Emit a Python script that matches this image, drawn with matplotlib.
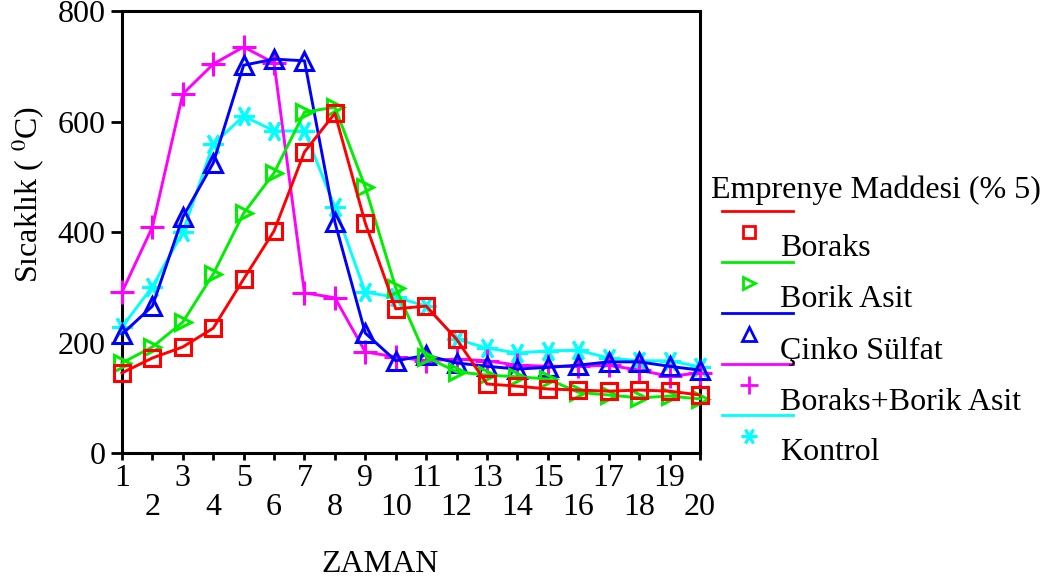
import numpy as np
import matplotlib.pyplot as plt
from matplotlib.lines import Line2D

plt.rcParams['font.family'] = ['Liberation Serif', 'DejaVu Serif']
plt.rcParams['mathtext.fontset'] = 'stix'

zaman = np.arange(1, 21)

boraks = [145, 172, 192, 226, 315, 402, 545, 615, 416, 261,
          266, 206, 125, 121, 116, 114, 112, 114, 112, 105]
borik_asit = [163, 192, 237, 324, 434, 507, 617, 626, 481, 299,
              174, 147, 141, 138, 134, 110, 105, 100, 103, 98]
cinko_sulfat = [215, 266, 427, 525, 702, 713, 710, 418, 217, 167,
                177, 163, 157, 152, 155, 159, 165, 165, 157, 150]
boraks_borik = [291, 409, 650, 704, 735, 706, 290, 281, 183, 174,
                167, 170, 167, 159, 157, 157, 159, 150, 139, 145]
kontrol = [228, 301, 400, 559, 610, 583, 583, 445, 291, 282,
           266, 206, 190, 181, 185, 186, 172, 167, 167, 156]

series = [
    ("Boraks", boraks, '#ff0000', 's', 11.5),
    ("Borik Asit", borik_asit, '#00ee00', '>', 11.5),
    ("Çinko Sülfat", cinko_sulfat, '#0000ff', '^', 12.5),
    ("Boraks+Borik Asit", boraks_borik, '#ff00ff', '+', 17),
    ("Kontrol", kontrol, '#00ffff', (6, 2, 90), 15),
]

fig = plt.figure(figsize=(10.47, 5.82), dpi=100)
ax = fig.add_axes([0.1165, 0.2216, 0.552, 0.7594])

for i, (name, vals, col, mk, ms) in enumerate(series):
    ax.plot(zaman, vals, color=col, lw=2.1, marker=mk, ms=ms,
            mfc='none', mec=col, mew=2.2, zorder=10 - i, clip_on=False)

ax.set_xlim(1, 20)
ax.set_ylim(0, 800)
ax.set_yticks([0, 200, 400, 600, 800])
ax.set_xticks(zaman)
# odd times on the first row, even times one row lower
ax.set_xticklabels([str(v) if v % 2 else '\n' + str(v) for v in zaman])
ax.tick_params(axis='both', labelsize=23, width=2, colors='black')
ax.tick_params(axis='y', length=8, pad=4)
ax.tick_params(axis='x', length=5, pad=3)
for s in ax.spines.values():
    s.set_linewidth(2.2)
for lab in ax.get_xticklabels():
    lab.set_linespacing(1.0)

ax.set_ylabel('Sıcaklık ( $^{0}$C)', fontsize=23)
ax.yaxis.set_label_coords(-0.13, 0.586)
fig.text(0.363, 0.03, 'ZAMAN', fontsize=23, ha='center', va='center')

# legend drawn by hand: line, marker, then label
fig.text(0.679, 1 - 190 / 582, 'Emprenye Maddesi (% 5)', fontsize=23,
         ha='left', va='center')
for i, (name, vals, col, mk, ms) in enumerate(series):
    y_line = 1 - (211 + 51 * i) / 582
    y_mk = 1 - (232 + 51 * i) / 582
    y_lab = 1 - (249 + 51 * i) / 582
    fig.add_artist(Line2D([722 / 1047, 793 / 1047], [y_line, y_line],
                          color=col, lw=2, transform=fig.transFigure))
    fig.add_artist(Line2D([749 / 1047], [y_mk], color=col, marker=mk,
                          ms=ms * 0.75, mfc='none', mec=col, mew=2,
                          linestyle='none', transform=fig.transFigure))
    fig.text(780 / 1047, y_lab, name, fontsize=23, ha='left', va='center')

fig.savefig('out.png', dpi=100)
